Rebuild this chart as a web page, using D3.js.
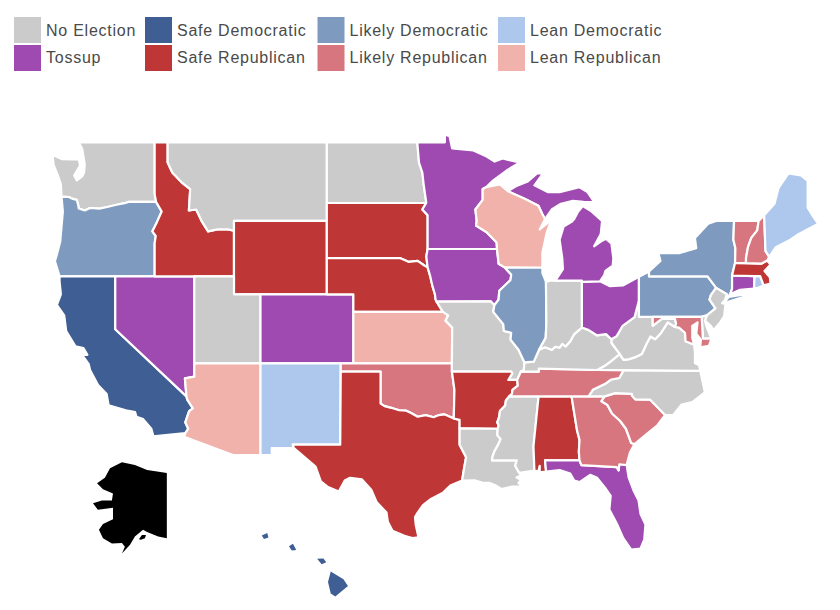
<!DOCTYPE html>
<html>
<head>
<meta charset="utf-8">
<script src="https://cdn.jsdelivr.net/npm/d3@7"></script>
<style>
  html, body { margin: 0; padding: 0; background: #fff; }
  svg { display: block; }
  text { font-family: "Liberation Sans", Arial, sans-serif; font-size: 16px; fill: #4a4a4a; letter-spacing: 0.75px; }
</style>
</head>
<body>
<div id="chart"></div>
<script>
const legendLabels = ["No Election", "Tossup", "Safe Democratic", "Safe Republican", "Likely Democratic", "Likely Republican", "Lean Democratic", "Lean Republican"];
const legendColors = ["#cbcbcb", "#9f4ab0", "#3f5e94", "#bf3636", "#7e9abf", "#d8767f", "#adc8ec", "#f0b2ab"];
const legendColumns = [14, 145, 317.5, 498];

const noElection = ["WA", "MT", "UT", "ND", "MO", "LA", "MS", "IN", "KY", "WV", "VA", "NC", "NJ", "DE"];
const tossup = ["NV", "CO", "MN", "IA", "MI", "OH", "FL", "CT"];
const safeDem = ["CA", "HI"];
const safeRep = ["ID", "WY", "SD", "NE", "TX", "AR", "AL", "MA"];
const likelyDem = ["OR", "IL", "PA", "NY"];
const likelyRep = ["OK", "TN", "GA", "SC", "MD", "VT", "NH"];
const leanDem = ["NM", "ME", "RI"];
const leanRep = ["AZ", "KS", "WI"];

const rev = a => a.slice().reverse();

// shared borders, [lon, lat]
const columbia = [[-124.05,46.27],[-123.5,46.25],[-123.2,46.15],[-122.9,46.1],[-122.8,45.85],[-122.75,45.65],[-122.3,45.55],[-121.9,45.68],[-121.2,45.65],[-120.6,45.73],[-119.9,45.85],[-119.3,45.93],[-119,46],[-116.92,46]];
const snake = [[-117.03,42],[-117.03,43.8],[-116.95,44.2],[-117.2,44.45],[-116.85,44.95],[-116.5,45.5],[-116.92,46]];
const bitterroot = [[-116.05,49],[-116.05,48],[-115.7,47.5],[-115,47],[-114.35,46.65],[-114.45,45.55],[-113.9,45.6],[-113.45,44.95],[-113,44.45],[-112.3,44.55],[-111.5,44.55],[-111.05,44.48]];
const coloradoRiver = [[-114.63,35],[-114.57,34.8],[-114.15,34.27],[-114.43,34.1],[-114.72,33.4],[-114.5,33],[-114.72,32.72]];
const redNorth = [[-97.23,49],[-97.1,48],[-96.85,47.5],[-96.75,46.9],[-96.56,46],[-96.56,45.94]];
const sdMn = [[-96.56,45.94],[-96.85,45.6],[-96.45,45.3],[-96.45,43.5]];
const sdNe = [[-96.45,42.5],[-96.7,42.6],[-97.2,42.85],[-97.9,42.8],[-98.5,43],[-104.05,43]];
const sdIa = [[-96.45,43.5],[-96.55,43.1],[-96.45,42.5]];
const neIa = [[-96.45,42.5],[-96.25,42],[-96.1,41.5],[-95.9,41],[-95.85,40.7],[-95.77,40.58]];
const neMo = [[-95.77,40.58],[-95.3,40]];
const ksMo = [[-95.3,40],[-94.9,39.8],[-95.1,39.5],[-94.6,39.1],[-94.62,37],[-94.62,36.5]];
const okAr = [[-94.62,36.5],[-94.43,35.4],[-94.48,33.64]];
const redSouth = [[-94.48,33.64],[-95.2,33.9],[-95.6,33.85],[-96,33.72],[-96.6,33.85],[-97.2,33.75],[-97.7,33.98],[-98.1,34.13],[-98.6,34.15],[-99.2,34.3],[-99.7,34.4],[-100,34.56]];
const txLa = [[-94.04,33.02],[-94.04,32],[-93.55,31.2],[-93.7,30.5],[-93.85,29.7]];
const mnWi = [[-92.3,46.66],[-92.3,46.1],[-92.85,45.6],[-92.75,45],[-92.8,44.75],[-92,44.4],[-91.25,43.85],[-91.22,43.5]];
const iaWi = [[-91.22,43.5],[-91.1,42.7],[-90.65,42.5]];
const iaIl = [[-90.65,42.5],[-90.15,42.1],[-90.2,41.8],[-91.05,41.2],[-91.1,40.7],[-91.42,40.38]];
const moIl = [[-91.42,40.38],[-91.5,40],[-90.75,39.3],[-90.7,38.9],[-90.15,38.8],[-90.2,38.4],[-89.6,37.8],[-89.15,37.05]];
const moKy = [[-89.15,37.05],[-89.2,36.6],[-89.42,36.5]];
const moTn = [[-89.42,36.5],[-89.7,36]];
const arBoot = [[-89.7,36],[-90.37,36],[-90.07,36.4],[-90.15,36.5]];
const arTn = [[-89.7,36],[-89.65,35.65],[-90.05,35.4],[-90.1,35.15],[-90.3,35]];
const arMs = [[-90.3,35],[-90.55,34.75],[-90.6,34.45],[-91,34.1],[-91.05,33.75],[-91.2,33.4],[-91.1,33.2],[-91.17,33]];
const laMs = [[-91.17,33],[-91.2,32.6],[-90.95,32.35],[-91.1,32.05],[-91.4,31.6],[-91.55,31.25],[-91.6,31],[-89.73,31],[-89.85,30.66],[-89.55,30.2]];
const msAl = [[-88.2,35],[-88.1,34.9],[-88.47,31.9],[-88.4,30.35]];
const alGa = [[-85.6,35],[-85.18,32.87],[-85,32.3],[-85.05,31.55],[-85,31]];
const gaFl = [[-85,31],[-84.86,30.7],[-82.2,30.57],[-82.05,30.36],[-82,30.75],[-81.45,30.7]];
const savannah = [[-83.11,35],[-83.35,34.7],[-82.9,34.48],[-82.55,33.95],[-81.95,33.5],[-81.5,33],[-81.1,32.1],[-80.85,32.03]];
const ncSc = [[-83.11,35],[-82.3,35.2],[-81.05,35.15],[-81.05,35.05],[-80.8,34.82],[-79.67,34.8],[-78.55,33.86]];
const ncTn = [[-81.68,36.59],[-82,36.12],[-82.6,36.03],[-83.1,35.75],[-84,35.4],[-84.32,35]];
const kyVa = [[-83.67,36.6],[-83.1,36.85],[-82.6,37.15],[-81.97,37.54]];
const kyWv = [[-81.97,37.54],[-82.6,38.2],[-82.6,38.42]];
const ohWv = [[-82.6,38.42],[-82.2,38.6],[-81.75,39.2],[-80.85,39.7],[-80.52,40.64]];
const kyOh = [[-82.6,38.42],[-83,38.72],[-83.7,38.65],[-84.3,38.95],[-84.82,39.1]];
const kyIn = [[-84.82,39.1],[-85.4,38.72],[-85.7,38.3],[-86.05,38],[-86.3,38.15],[-86.5,37.93],[-86.8,37.98],[-87.1,37.8],[-87.6,37.95],[-88.05,37.8]];
const kyIl = [[-88.05,37.8],[-88.45,37.1],[-89.15,37.05]];
const inIl = [[-88.05,37.8],[-87.55,38.5],[-87.5,39.35],[-87.53,41.7]];
const vaWv = [[-81.97,37.54],[-81.68,37.2],[-81.25,37.25],[-80.85,37.35],[-80.3,37.55],[-79.95,38.15],[-79.65,38.58],[-79.3,38.42],[-78.87,38.77],[-78.35,39.4],[-77.8,39.13]];
const mdWv = [[-77.8,39.13],[-77.72,39.32],[-77.8,39.6],[-78.4,39.62],[-78.8,39.6],[-79.48,39.2],[-79.48,39.72]];
const mdVa = [[-77.8,39.13],[-77.5,39.1],[-77.05,38.8],[-77,38.3],[-76.35,38.1]];
const paNy = [[-79.76,42],[-75.35,42],[-74.7,41.36]];
const paNj = [[-74.7,41.36],[-75.1,40.95],[-75.2,40.7],[-74.75,40.2],[-75.4,39.8]];
const nyNj = [[-74.7,41.36],[-73.9,41],[-74.02,40.7]];
const nyVt = [[-73.35,45],[-73.4,44],[-73.25,43.55],[-73.27,42.75]];
const vtNh = [[-71.5,45],[-71.6,44.5],[-72.05,44.1],[-72.3,43.6],[-72.45,43],[-72.45,42.73]];
const nhMe = [[-71.08,45.3],[-70.98,43.4],[-70.7,43.07]];
const upWi = [[-90.4,46.55],[-89.1,46.15],[-88.1,45.8],[-87.8,45.35],[-87.6,45.1]];

const outlines = {
  WA: [[[-117.03,49],[-122.76,49],[-122.5,48.7],[-122.4,48.3],[-122.3,47.9],[-122.35,47.5],[-122.5,47.3],[-122.9,47.1],[-123.1,47.35],[-122.65,47.85],[-122.75,48.15],[-123.2,48.15],[-124,48.17],[-124.72,48.38],[-124.65,47.9],[-124.3,47.3],[-124.1,46.9],...columbia,[-117.03,46.4]]],
  OR: [[[-124.05,46.27],[-123.95,45.5],[-124.05,44.7],[-124.15,43.9],[-124.4,43.2],[-124.55,42.84],[-124.2,42],...snake,...rev(columbia)]],
  CA: [[[-124.2,42],[-120,42],[-120,39],...coloradoRiver,[-117.12,32.53],[-117.28,33],[-117.9,33.6],[-118.4,33.75],[-118.5,34.03],[-119.2,34.15],[-120.5,34.45],[-120.65,35.15],[-121.3,35.7],[-121.9,36.6],[-122,36.95],[-122.5,37.5],[-122.1,37.5],[-122.4,37.9],[-123,38],[-123.7,38.9],[-123.85,39.8],[-124.4,40.4],[-124.1,41],[-124.2,41.75]]],
  NV: [[[-120,42],[-114.04,42],[-114.04,36.2],[-114.75,36.1],[-114.63,35],[-120,39]]],
  ID: [[[-117.03,49],...bitterroot,[-111.05,42],...snake,[-117.03,46.4]]],
  MT: [[...bitterroot,[-111.05,45],[-104.05,45],[-104.05,49]]],
  WY: [[[-111.05,45],[-104.05,45],[-104.05,41],[-111.05,41]]],
  UT: [[[-114.04,42],[-111.05,42],[-111.05,41],[-109.05,41],[-109.05,37],[-114.04,37]]],
  CO: [[[-109.05,41],[-102.05,41],[-102.05,37],[-109.05,37]]],
  AZ: [[[-114.04,37],[-109.05,37],[-109.05,31.33],[-111.07,31.33],[-114.8,32.5],[-114.72,32.72],...rev(coloradoRiver),[-114.75,36.1],[-114.04,36.2]]],
  NM: [[[-109.05,37],[-103,37],[-103.04,32],[-106.62,32],[-106.53,31.78],[-108.2,31.78],[-108.2,31.33],[-109.05,31.33]]],
  ND: [[[-104.05,49],...redNorth,[-104.05,45.94]]],
  SD: [[[-104.05,45.94],...sdMn,...sdIa,...sdNe]],
  NE: [[[-104.05,43],...rev(sdNe),...neIa,...neMo,[-102.05,40],[-102.05,41],[-104.05,41]]],
  KS: [[[-102.05,40],...ksMo.slice(0,5),[-102.05,37]]],
  OK: [[[-103,37],[-94.62,37],...okAr,...redSouth,[-100,36.5],[-103,36.5]]],
  TX: [[[-103,36.5],[-100,36.5],...rev(redSouth),[-94.04,33.55],...txLa,[-94.7,29.4],[-94.9,29.25],[-95.3,28.9],[-96.2,28.5],[-96.8,28.1],[-97.2,27.6],[-97.4,27.3],[-97.35,26.8],[-97.2,26.2],[-97.15,25.95],[-97.6,25.9],[-98.2,26.05],[-99.1,26.4],[-99.45,27],[-99.55,27.6],[-100.3,28.3],[-100.7,29.1],[-101.4,29.77],[-102.3,29.88],[-102.7,29.7],[-103.15,28.98],[-104,29.3],[-104.5,29.65],[-104.9,30.6],[-106,31.4],[-106.53,31.78],[-106.62,32],[-103.04,32]]],
  MN: [[...redNorth,...sdMn,[-91.22,43.5],...rev(mnWi),[-92.05,46.75],[-91.5,47.1],[-90.5,47.6],[-89.5,48],[-90.8,48.2],[-91.4,48.05],[-92,48.3],[-93,48.6],[-94.6,48.7],[-94.8,49.3],[-95.15,49.38],[-95.15,49]]],
  IA: [[[-96.45,43.5],...iaWi,...iaIl,[-91.7,40.6],...rev(neIa),...rev(sdIa)]],
  MO: [[[-95.77,40.58],[-91.7,40.6],...moIl,...moKy,...moTn,...arBoot,...rev(ksMo),...rev(neMo)]],
  AR: [[[-94.62,36.5],...rev(arBoot),...arTn,...arMs,[-94.04,33.02],[-94.04,33.55],[-94.48,33.64],[-94.43,35.4]]],
  LA: [[...txLa.slice(0,1),...laMs,[-89.4,30.05],[-89.75,29.9],[-89.4,29.75],[-89.6,29.55],[-89.3,29.3],[-90.1,29.3],[-90.9,29.15],[-91.35,29.4],[-91.8,29.55],[-92.3,29.55],[-92.9,29.72],...rev(txLa)]],
  MS: [[...arMs,...laMs.slice(1),...rev(msAl)]],
  AL: [[[-88.2,35],...alGa,[-87.6,31],[-87.52,30.28],[-88,30.23],[-88,30.65],[-88.1,30.3],...rev(msAl)]],
  FL: [[[-87.6,31],...gaFl,[-81.3,29.9],[-80.9,29],[-80.55,28.4],[-80.4,27.5],[-80.03,26.8],[-80.12,25.8],[-80.4,25.2],[-81.1,25.13],[-81.7,25.9],[-82.2,26.9],[-82.75,27.8],[-82.65,28.7],[-83,29.15],[-83.7,29.9],[-84.2,30.07],[-85,29.6],[-85.4,29.7],[-85.7,30.15],[-86.5,30.38],[-87.52,30.28]]],
  GA: [[...alGa,...gaFl,[-81.2,31.5],...rev(savannah),[-84.32,35]]],
  SC: [[...ncSc,[-79.15,33.2],[-79.9,32.7],...rev(savannah)]],
  NC: [[...ncTn,...ncSc,[-77.95,33.85],[-77.3,34.5],[-76.5,34.65],[-75.55,35.25],[-75.9,36.55]]],
  TN: [[[-90.3,35],[-88.2,35],[-84.32,35],...rev(ncTn),[-83.67,36.6],[-88.07,36.68],[-88.07,36.5],[-89.42,36.5],...moTn,...arTn.slice(1)]],
  VA: [[[-83.67,36.6],[-81.68,36.59],[-75.9,36.55],[-76,36.9],[-76.3,37],[-76.3,37.6],[-76.35,38.1],...rev(mdVa),...rev(vaWv),...rev(kyVa)]],
  WV: [[...kyWv,...ohWv,[-80.52,39.72],...rev(mdWv),...rev(vaWv)]],
  KY: [[[-89.42,36.5],[-88.07,36.5],[-88.07,36.68],...kyVa,...kyWv,...kyOh,...kyIn,...kyIl,...moKy]],
  IL: [[[-87.8,42.49],[-90.65,42.5],...iaIl,...moIl,...rev(kyIl),...inIl,[-87.8,42.2]]],
  IN: [[...rev(inIl),...rev(kyIn),[-84.82,41.76],[-87.2,41.76]]],
  OH: [[[-84.82,41.7],[-83.45,41.73],[-82.7,41.45],[-81.7,41.5],[-80.52,41.98],[-80.52,40.64],...rev(ohWv),...kyOh]],
  MI: [[[-86.82,41.76],[-84.82,41.76],[-84.82,41.7],[-83.45,41.73],[-83.15,42.05],[-83.05,42.3],[-82.5,42.6],[-82.45,43],[-82.6,43.8],[-83,44.05],[-83.4,43.9],[-83.9,43.65],[-83.4,44.3],[-83.3,45],[-84.1,45.5],[-84.75,45.78],[-85.1,45.5],[-85.4,45.1],[-85.6,44.95],[-86.2,44.7],[-86.5,44],[-86.3,43],[-86.25,42.4]],
       [...upWi,[-87.1,45.6],[-86.4,45.9],[-85.5,46.05],[-84.7,46],[-83.9,45.98],[-84.1,46.2],[-84.4,46.5],[-85,46.75],[-86.5,46.5],[-87.4,46.5],[-88.4,46.85],[-87.75,47.45],[-88.2,47.45],[-88.9,47.05],[-89.8,46.8]]],
  WI: [[...mnWi,...iaWi,[-87.8,42.49],[-87.8,43.3],[-87.5,44.3],[-87.05,45.25],[-87.4,44.9],[-88,44.55],...rev(upWi),[-91,46.9],[-92.05,46.75]]],
  PA: [[[-80.52,41.98],[-79.76,42.27],...paNy,...paNj,[-75.79,39.72],[-79.48,39.72],[-80.52,39.72]]],
  NY: [[...paNy,...nyNj,[-73.65,41],[-73.5,41.3],[-73.5,42.05],[-73.27,42.75],...rev(nyVt),[-74.7,45],[-75.3,44.85],[-76.3,44.1],[-76.2,43.55],[-77.5,43.28],[-79.05,43.27],[-78.9,42.85],[-79.76,42.27]],
       [[-74,40.6],[-73.75,40.85],[-72.7,40.98],[-72.5,40.88],[-73.9,40.55]]],
  NJ: [[...rev(paNj),...nyNj,[-74.25,40.5],[-74,40.45],[-74.1,39.75],[-74.4,39.4],[-74.9,38.95],[-75.1,39.2],[-75.55,39.5]]],
  DE: [[[-75.79,39.72],[-75.4,39.8],[-75.55,39.5],[-75.4,39.1],[-75.05,38.45],[-75.7,38.46]]],
  MD: [[[-79.48,39.72],[-75.79,39.72],[-75.7,38.46],[-75.05,38.45],[-75.25,38.03],[-75.9,37.95],[-75.85,38.4],[-76.2,38.75],[-76.1,39.4],[-76.5,39.2],[-76.5,38.5],...rev(mdVa),...mdWv.slice(0,-1)]],
  CT: [[[-73.5,42.05],[-71.8,42.02],[-71.85,41.32],[-72.9,41.25],[-73.65,41],[-73.5,41.3]]],
  RI: [[[-71.8,42.02],[-71.38,42.02],[-71.12,41.5],[-71.5,41.37],[-71.85,41.32]]],
  MA: [[[-73.5,42.05],[-73.27,42.75],[-72.45,42.73],[-71.3,42.7],[-70.85,42.87],[-70.6,42.65],[-71.05,42.3],[-70.65,41.95],[-70.6,41.6],[-71.12,41.5],[-71.38,42.02],[-71.8,42.02]]],
  VT: [[...nyVt,[-72.45,42.73],...rev(vtNh)]],
  NH: [[...vtNh,[-71.3,42.7],[-70.85,42.87],...rev(nhMe)]],
  ME: [[...nhMe,[-70.2,43.6],[-69.1,44],[-68.5,44.3],[-67,44.85],[-67.45,45.3],[-67.8,45.7],[-67.8,47.07],[-68.3,47.35],[-69.25,47.45],[-70,46.7],[-70.3,45.9]]]
};

const alaska = [
  [[-140.9,70.3],[-144.5,70.5],[-148.2,70.7],[-152.7,71.3],[-157.5,71.6],[-161.9,70.9],[-163.8,69.7],[-166.7,69],[-164.5,68.2],[-160.8,67.6],[-161.2,66.6],[-164.9,66.6],[-168.2,66.2],[-166.4,65.2],[-160.8,65.5],[-160.8,63.7],[-164.5,62.9],[-166,61.9],[-164.5,60.4],[-161.2,59.4],[-157.5,59.5],[-156.4,58.8],[-157.5,57.5],[-154.5,59.2],[-152.7,60.7],[-149.7,61.9],[-148.2,61.5],[-144.1,60.7],[-140.9,60.4]],
  [[-151.2,60.2],[-150.1,61],[-148.6,61],[-149,60.4],[-150.5,60.1]]
];
const hawaii = [
  [[-155.9,20.25],[-155.2,19.85],[-154.95,19.5],[-155.65,18.95],[-155.9,19.1],[-156.05,19.7]],
  [[-156.65,20.9],[-156.3,20.92],[-156.15,20.72],[-156.4,20.62]],
  [[-158.2,21.55],[-157.98,21.68],[-157.8,21.35],[-158.05,21.33]],
  [[-159.7,22.1],[-159.4,22.22],[-159.33,22],[-159.58,21.92]]
];

const width = 840, height = 610;
const svg = d3.select("#chart").append("svg").attr("width", width).attr("height", height);

const fillOf = new Map();
[[noElection, 0], [tossup, 1], [safeDem, 2], [safeRep, 3], [likelyDem, 4], [likelyRep, 5], [leanDem, 6], [leanRep, 7]]
  .forEach(([list, i]) => list.forEach(s => fillOf.set(s, legendColors[i])));

// mercator, the source image is a touch taller in the south
const baseProj = d3.geoMercator().scale(760).translate([1707, 890]);
const yStretch = d3.scaleLinear().domain([142, 534]).range([142, 538]);
const mainProj = p => { const [x, y] = baseProj(p); return [x, yStretch(y)]; };
const akProj = d3.geoMercator().scale(155).translate([548, 744.5]);
const hiProj = d3.geoMercator().scale(1040).center([-155.5, 19.6]).translate([338, 584]);

const ringPath = proj => rings => rings.map(r => d3.line()(r.map(proj)) + "Z").join("");

svg.append("g")
  .selectAll("path")
  .data(Object.entries(outlines))
  .join("path")
  .attr("d", d => ringPath(mainProj)(d[1]))
  .attr("fill", d => fillOf.get(d[0]))
  .attr("stroke", "#fff")
  .attr("stroke-width", 2.2)
  .attr("stroke-linejoin", "round");

svg.append("path").attr("d", ringPath(akProj)(alaska)).attr("fill", "#000");
svg.append("path").attr("d", ringPath(hiProj)(hawaii)).attr("fill", fillOf.get("HI"));

const legend = svg.append("g");
const item = legend.selectAll("g")
  .data(legendLabels)
  .join("g")
  .attr("transform", (d, i) => `translate(${legendColumns[Math.floor(i / 2)]},${i % 2 ? 45 : 17})`);
item.append("rect")
  .attr("width", 27).attr("height", 26)
  .attr("fill", (d, i) => legendColors[i]);
item.append("text")
  .attr("x", 32).attr("y", (d, i) => i % 2 ? 18 : 19)
  .text(d => d);
</script>
</body>
</html>
